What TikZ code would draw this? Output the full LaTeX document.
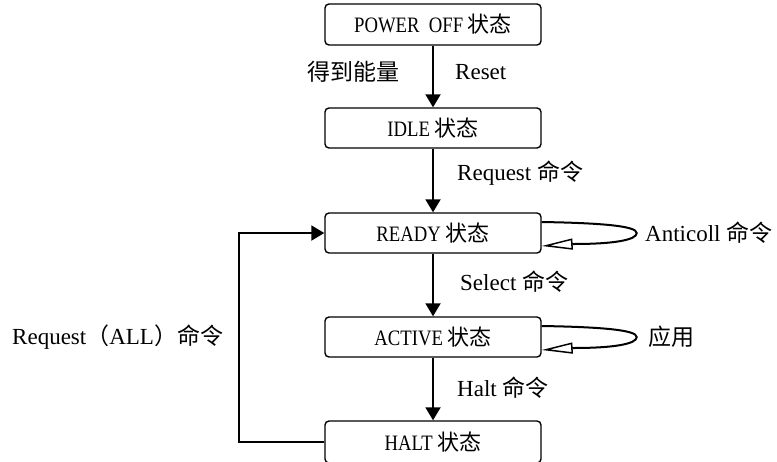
\documentclass[tikz,border=0pt]{standalone}
\usepackage{fontspec}
\setmainfont{Liberation Serif}
\newfontfamily\cjk{Noto Sans CJK SC}
\newfontfamily\narrow[FakeStretch=0.85]{Liberation Serif}
\usetikzlibrary{arrows.meta,calc}
\newcommand\zt{{\cjk\fontsize{22}{24}\selectfont 状态}}
\begin{document}
\begin{tikzpicture}[x=1pt,y=-1pt,
  state/.style={draw,line width=1.4pt,rounded corners=4pt,minimum width=216pt,
    minimum height=40pt,inner sep=0pt,font=\fontsize{22}{26}\selectfont\narrow},
  lbl/.style={font=\fontsize{23}{26}\selectfont,inner sep=0pt},
  flow/.style={line width=2pt,-{Triangle[length=13pt,width=15pt]}},
  selfloop/.style={line width=2pt,-{Triangle[open,length=31pt,width=11pt,line width=1.5pt]}}]
\clip (0,0) rectangle (777,461);

% states
\node[state,minimum height=41pt] (off) at (433,24.5) {POWER\ \ OFF \zt};
\node[state] (idle)   at (433,128) {IDLE \zt};
\node[state] (ready)  at (433,233) {READY \zt};
\node[state] (active) at (433,337) {ACTIVE \zt};
\node[state,minimum height=42pt] (halt) at (433,442) {HALT \zt};

% transitions down the chain
\draw[flow] (off) -- (idle);
\draw[flow] (idle) -- (ready);
\draw[flow] (ready) -- (active);
\draw[flow] (active) -- (halt);

% back from HALT to READY
\draw[flow] (halt.west) -- ++(-85,0) |- (ready.west);

% self loops
\coordinate (r1) at ($(ready.east)+(0,-11)$);
\coordinate (r2) at ($(ready.east)+(0,13)$);
\draw[selfloop] (r1) .. controls +(60,1) and +(0,-7) .. ($(ready.east)+(95,0)$)
  .. controls +(0,7) and +(40,0) .. ($(ready.east)+(32,11)$) -- (r2);
\coordinate (a1) at ($(active.east)+(0,-11)$);
\coordinate (a2) at ($(active.east)+(0,13)$);
\draw[selfloop] (a1) .. controls +(60,1) and +(0,-7) .. ($(active.east)+(95,0)$)
  .. controls +(0,7) and +(40,0) .. ($(active.east)+(32,11)$) -- (a2);

% labels
\node[lbl] (power) at (353,72) {\cjk 得到能量};
\node[lbl,anchor=west] (reset) at (455,72) {Reset};
\node[lbl,anchor=west] (req) at (457,173) {Request {\cjk 命令}};
\node[lbl,anchor=west] (sel) at (460,282) {Select {\cjk 命令}};
\node[lbl,anchor=west] (hlt) at (457,388) {Halt {\cjk 命令}};
\node[lbl,anchor=west] (anti) at (645,233) {Anticoll {\cjk 命令}};
\node[lbl,anchor=west] (app) at (648,337) {\cjk 应用};
\node[lbl,anchor=west] (reqall) at (12,337) {Request{\cjk （}ALL{\cjk ）命令}};
\end{tikzpicture}
\end{document}
